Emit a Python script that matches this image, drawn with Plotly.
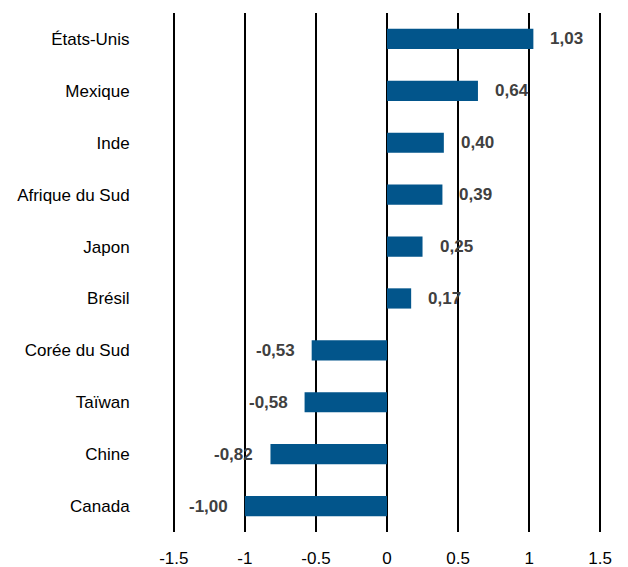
import plotly.graph_objects as go

categories = ["États-Unis", "Mexique", "Inde", "Afrique du Sud", "Japon", "Brésil",
              "Corée du Sud", "Taïwan", "Chine", "Canada"]
values = [1.03, 0.64, 0.40, 0.39, 0.25, 0.17, -0.53, -0.58, -0.82, -1.00]
value_labels = ["1,03", "0,64", "0,40", "0,39", "0,25", "0,17", "-0,53", "-0,58", "-0,82", "-1,00"]
x_ticks = [-1.5, -1, -0.5, 0, 0.5, 1, 1.5]
x_tick_labels = ["-1.5", "-1", "-0.5", "0", "0.5", "1", "1.5"]

FONT = "Liberation Sans Narrow, Arial Narrow, Liberation Sans, Arial, sans-serif"

fig = go.Figure(go.Bar(
    x=values, y=categories, orientation="h",
    marker=dict(color="#02558B", line=dict(width=0)),
    width=0.39, hoverinfo="skip",
))

annotations = []
for c, v, t in zip(categories, values, value_labels):
    annotations.append(dict(
        x=v, y=c, xref="x", yref="y", text=f"<b>{t}</b>", showarrow=False,
        xanchor="left" if v >= 0 else "right", xshift=15 if v >= 0 else -15,
        font=dict(family=FONT, size=17, color="#404040"),
    ))

# page body has an 8px default margin: figure is sized to fit inside the window
fig.update_layout(
    width=620, height=559,
    margin=dict(l=163, r=25, t=5, b=35),
    paper_bgcolor="white", plot_bgcolor="white",
    showlegend=False,
    annotations=annotations,
    xaxis=dict(
        range=[-1.52, 1.52], tickvals=x_ticks, ticktext=x_tick_labels,
        showgrid=True, gridcolor="black", gridwidth=2,
        zeroline=False, showline=False, automargin=False,
        ticks="outside", ticklen=11, tickcolor="rgba(0,0,0,0)",
        tickfont=dict(family=FONT, size=17, color="black"),
    ),
    yaxis=dict(
        categoryorder="array", categoryarray=categories[::-1],
        showgrid=False, zeroline=False, showline=False, automargin=False,
        ticks="outside", ticklen=37, tickcolor="rgba(0,0,0,0)",
        tickfont=dict(family=FONT, size=17, color="black"),
    ),
)

fig.write_html("out.html")
